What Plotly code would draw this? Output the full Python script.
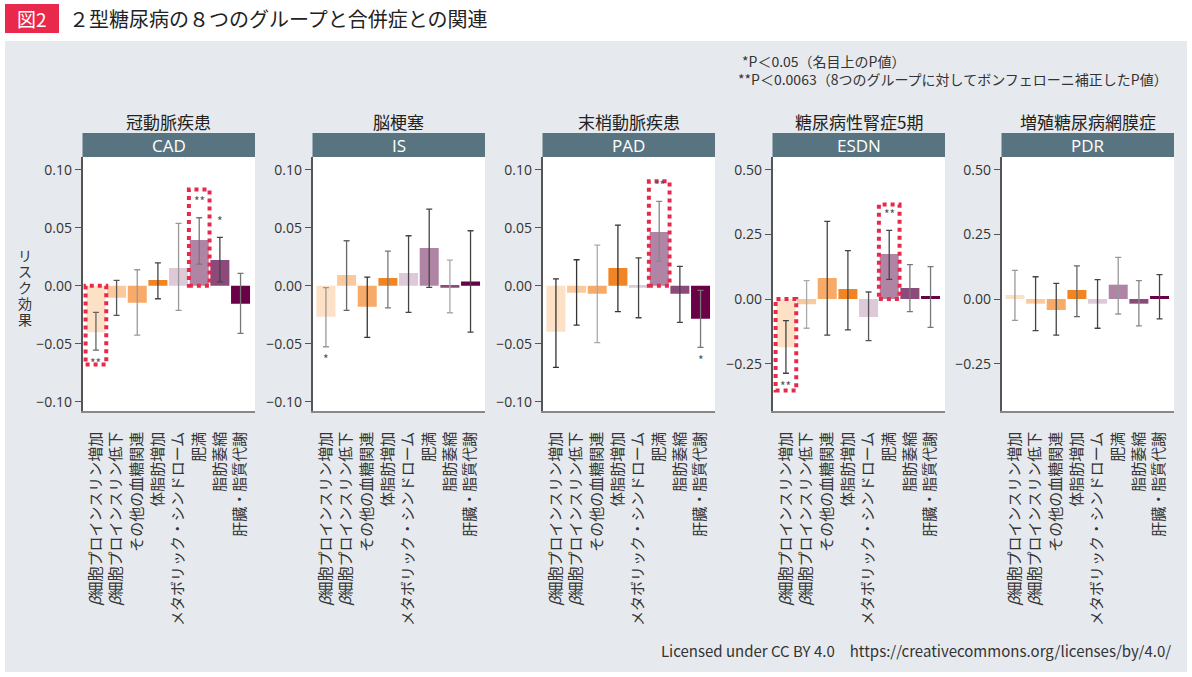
import plotly.graph_objects as go

W, H = 1192, 677
FONT = "Noto Sans CJK JP"
LATIN = "Open Sans, Noto Sans CJK JP"

# ---------------- data ----------------
categories = ["<i>β</i>細胞プロインスリン増加", "<i>β</i>細胞プロインスリン低下", "その他の血糖関連",
              "体脂肪増加", "メタボリック・シンドローム", "肥満", "脂肪萎縮", "肝臓・脂質代謝"]
panel_codes = ["CAD", "IS", "PAD", "ESDN", "PDR"]
panel_titles = ["冠動脈疾患", "脳梗塞", "末梢動脈疾患", "糖尿病性腎症5期", "増殖糖尿病網膜症"]

cad_est = [-0.040, -0.0103, -0.0147, 0.0049, 0.0152, 0.0394, 0.0221, -0.0155]
cad_lo = [-0.0555, -0.0256, -0.0425, -0.0112, -0.0213, 0.0187, 0.0034, -0.0411]
cad_hi = [-0.023, 0.0046, 0.0138, 0.0198, 0.0537, 0.0586, 0.0417, 0.0106]
cad_sig = ["**", "", "", "", "", "**", "*", ""]
cad_box = [-0.068, None, None, None, None, 0.083, None, None]

is_est = [-0.0267, 0.0092, -0.0181, 0.0066, 0.0109, 0.0325, -0.0017, 0.0037]
is_lo = [-0.0526, -0.0213, -0.0445, -0.019, -0.023, -0.0014, -0.0233, -0.040]
is_hi = [-0.0017, 0.0388, 0.0075, 0.0299, 0.0431, 0.0661, 0.0221, 0.0474]
is_sig = ["*", "", "", "", "", "", "", ""]
is_box = [None] * 8

pad_est = [-0.0397, -0.006, -0.0069, 0.0152, -0.0017, 0.0463, -0.0069, -0.0284]
pad_lo = [-0.0704, -0.0339, -0.0491, -0.0224, -0.0276, 0.021, -0.0316, -0.0532]
pad_hi = [0.006, 0.0224, 0.035, 0.0523, 0.0241, 0.0727, 0.0167, -0.004]
pad_sig = ["", "", "", "", "", "**", "", "*"]
pad_box = [None, None, None, None, None, 0.090, None, None]

esdn_est = [-0.187, -0.0206, 0.081, 0.0387, -0.0696, 0.174, 0.0425, 0.0116]
esdn_lo = [-0.287, -0.113, -0.140, -0.119, -0.161, 0.076, -0.049, -0.110]
esdn_hi = [-0.0838, 0.071, 0.300, 0.187, 0.027, 0.265, 0.133, 0.125]
esdn_sig = ["**", "", "", "", "", "**", "", ""]
esdn_box = [-0.354, None, None, None, None, 0.365, None, None]

pdr_est = [0.0155, -0.018, -0.0425, 0.0348, -0.018, 0.0554, -0.018, 0.0116]
pdr_lo = [-0.0825, -0.122, -0.140, -0.068, -0.113, -0.058, -0.104, -0.077]
pdr_hi = [0.111, 0.086, 0.0606, 0.128, 0.0747, 0.161, 0.071, 0.094]
pdr_sig = [""] * 8
pdr_box = [None] * 8

small_ticks = [-0.10, -0.05, 0.00, 0.05, 0.10]
large_ticks = [-0.25, 0.00, 0.25, 0.50]

note_lines = ["*P＜0.05（名目上のP値）",
              "**P＜0.0063（8つのグループに対してボンフェローニ補正したP値）"]
title_text = "２型糖尿病の８つのグループと合併症との関連"
fig_label = "図2"
license_text = "Licensed under CC BY 4.0　https://creativecommons.org/licenses/by/4.0/"
y_title = "リスク効果"

# ---------------- styles ----------------
bar_colors = ["#fde1c7", "#fbc99c", "#f8aa69", "#f18524", "#ddc9d8", "#b084a4", "#8b4a79", "#6a0045"]
err_shades = [
    ["#666", "#555", "#999", "#444", "#999", "#777", "#444", "#777"],
    ["#999", "#666", "#333", "#777", "#444", "#444", "#aaa", "#444"],
    ["#333", "#333", "#aaa", "#333", "#444", "#888", "#444", "#777"],
    ["#444", "#aaa", "#444", "#444", "#555", "#444", "#777", "#777"],
    ["#999", "#444", "#444", "#666", "#444", "#999", "#888", "#444"],
]
RED = "#e8294b"
STRIP = "#587480"
BG = "#e6eaee"

panels = [
    (cad_est, cad_lo, cad_hi, cad_sig, cad_box, small_ticks, [-0.108, 0.111]),
    (is_est, is_lo, is_hi, is_sig, is_box, small_ticks, [-0.108, 0.111]),
    (pad_est, pad_lo, pad_hi, pad_sig, pad_box, small_ticks, [-0.108, 0.111]),
    (esdn_est, esdn_lo, esdn_hi, esdn_sig, esdn_box, large_ticks, [-0.433, 0.549]),
    (pdr_est, pdr_lo, pdr_hi, pdr_sig, pdr_box, large_ticks, [-0.433, 0.549]),
]

left_px = [82.5, 312.5, 542.5, 772.5, 1001.5]
width_px = 172.5
top_px, bottom_px = 157, 411
strip_top = 133


def px(x):
    return x / W


def py(y):
    return 1 - y / H


fig = go.Figure()
shapes = []
annotations = []
layout_axes = {}

# white outer border around gray panel
for x0, y0, x1, y1 in [(0, 0, W, 41), (0, 0, 5, H), (1187, 0, W, H), (0, 672, W, H)]:
    shapes.append(dict(type="rect", xref="paper", yref="paper", x0=px(x0), x1=px(x1),
                       y0=py(y1), y1=py(y0), fillcolor="white", line=dict(width=0), layer="below"))
# red figure label box
shapes.append(dict(type="rect", xref="paper", yref="paper", x0=px(5), x1=px(59), y0=py(33), y1=py(4),
                   fillcolor=RED, line=dict(width=0)))
annotations.append(dict(text=fig_label, xref="paper", yref="paper", x=px(32), y=py(19), showarrow=False,
                        xanchor="center", yanchor="middle", font=dict(family=FONT, size=19, color="white")))
annotations.append(dict(text=title_text, xref="paper", yref="paper", x=px(67), y=py(19), showarrow=False,
                        xanchor="left", yanchor="middle", font=dict(family=FONT, size=20, color="#222")))

# notes
for i, (line, ypos) in enumerate(zip(note_lines, [61, 79])):
    annotations.append(dict(text=line, xref="paper", yref="paper", x=px(736 if i else 740), y=py(ypos),
                            showarrow=False, xanchor="left", yanchor="middle",
                            font=dict(family=FONT, size=14, color="#333")))

annotations.append(dict(text=license_text, xref="paper", yref="paper", x=px(1173), y=py(650),
                        showarrow=False, xanchor="right", yanchor="middle",
                        font=dict(family=FONT, size=15, color="#333")))

# y-axis title: stacked upright characters
for k, ch in enumerate(y_title):
    annotations.append(dict(text=ch, xref="paper", yref="paper", x=px(25), y=py(255 + k * 16),
                            showarrow=False, xanchor="center", yanchor="middle",
                            font=dict(family=FONT, size=14, color="#333")))

for p, (est, lo, hi, sig, box, ticks, yr) in enumerate(panels):
    n = p + 1
    xa = "x" if n == 1 else f"x{n}"
    ya = "y" if n == 1 else f"y{n}"
    x0 = px(left_px[p])
    x1 = px(left_px[p] + width_px)
    for i in range(len(categories)):
        fig.add_trace(go.Bar(
            x=[i], y=[est[i]], width=0.92, xaxis=xa, yaxis=ya,
            marker=dict(color=bar_colors[i], line=dict(width=0)),
            error_y=dict(type="data", symmetric=False, array=[hi[i] - est[i]],
                         arrayminus=[est[i] - lo[i]], color=err_shades[p][i], thickness=1.3, width=3),
            showlegend=False, hoverinfo="skip"))
        if sig[i]:
            up = est[i] > 0
            annotations.append(dict(text=sig[i], xref=xa, yref=ya, x=i, y=hi[i] if up else lo[i],
                                    showarrow=False, xanchor="center", yanchor="middle",
                                    yshift=17 if up else -12,
                                    font=dict(family=FONT, size=12, color="#555")))
        if box[i] is not None:
            shapes.append(dict(type="rect", xref=xa, yref=ya, x0=i - 0.5, x1=i + 0.5,
                               y0=min(0, box[i]), y1=max(0, box[i]),
                               line=dict(color=RED, width=4, dash="dot"), fillcolor="rgba(0,0,0,0)",
                               layer="above"))
    key = "" if n == 1 else str(n)
    layout_axes[f"xaxis{key}"] = dict(
        domain=[x0, x1], anchor=ya, range=[-0.65, 7.7], tickmode="array",
        tickvals=list(range(len(categories))), ticktext=categories, tickangle=-90,
        ticks="", ticklabelstandoff=13, showline=True, linecolor="#888", linewidth=1.5,
        showgrid=False, zeroline=False, fixedrange=True,
        tickfont=dict(family=FONT, size=15, color="#333"))
    layout_axes[f"yaxis{key}"] = dict(
        domain=[py(bottom_px), py(top_px)], anchor=xa, range=yr, tickmode="array",
        tickvals=ticks, tickformat=".2f", ticks="outside", ticklen=6, tickwidth=1.3,
        tickcolor="#555", showline=True, linecolor="#555", linewidth=1.5, showgrid=False,
        zeroline=False, fixedrange=True, tickfont=dict(family=LATIN, size=14, color="#333"))
    # strip header
    shapes.append(dict(type="rect", xref="paper", yref="paper", x0=x0, x1=x1, y0=py(top_px),
                       y1=py(strip_top), fillcolor=STRIP, line=dict(width=0)))
    annotations.append(dict(text=panel_codes[p], xref="paper", yref="paper", x=(x0 + x1) / 2,
                            y=py((top_px + strip_top) / 2), showarrow=False, xanchor="center",
                            yanchor="middle", font=dict(family=LATIN, size=17, color="white")))
    annotations.append(dict(text=panel_titles[p], xref="paper", yref="paper", x=(x0 + x1) / 2,
                            y=py(121), showarrow=False, xanchor="center", yanchor="middle",
                            font=dict(family=FONT, size=17, color="#222")))

fig.update_layout(
    width=W, height=H, margin=dict(l=0, r=0, t=0, b=0),
    paper_bgcolor=BG, plot_bgcolor="white", barmode="overlay",
    shapes=shapes, annotations=annotations, showlegend=False,
    font=dict(family=FONT, color="#333"),
    **layout_axes)

fig.write_html("out.html", config={"displayModeBar": False})
